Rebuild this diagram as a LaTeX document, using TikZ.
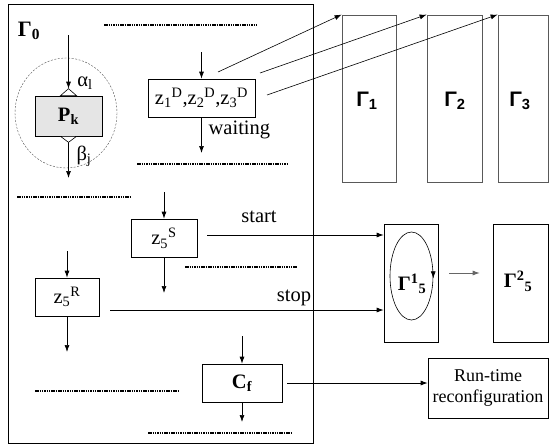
\documentclass[tikz,border=0pt]{standalone}
\usepackage{fontspec}
\setmainfont{Liberation Serif}
\newfontfamily\gammasans{Liberation Sans}
\usetikzlibrary{arrows.meta, shapes.geometric}
\colorlet{ProcessFill}{black!10}
\colorlet{ContextLine}{black!65}
\tikzset{
    flow arrow/.style={-{Latex[length=7pt, width=5pt]}},
    plain box/.style={draw, inner sep=0pt, line width=0.7pt},
    dotted rule/.style={line width=1.3pt, dash pattern=on 1.5pt off 0.8pt},
    context box/.style={
        draw=ContextLine, line width=0.8pt, inner sep=0pt,
        minimum height=167pt
    },
    context label/.style={font=\gammasans\bfseries\fontsize{21}{24}\selectfont},
    port/.style={draw, fill=white, line width=0.6pt}
}

\begin{document}
\begin{tikzpicture}[x=1pt, y=-1pt, line width=0.7pt, font=\fontsize{20.5}{24}\selectfont]
\useasboundingbox (0,0) rectangle (549,445);

% Marco del contexto principal.
\coordinate (F1) at (8,4);
\coordinate (F2) at (313,443);
\draw (F1) rectangle (F2);
\node[font=\fontsize{22}{25}\selectfont] (g0) at (29,31) {\textbf{Γ\textsubscript{0}}};

% Proceso P_k con sus puertos de entrada y salida.
\coordinate (pkc) at (66,113);
\draw[dashed, line width=0.4pt, black!70, dash pattern=on 2pt off 1.5pt] (pkc) ellipse (51 and 55);
\node[plain box, fill=ProcessFill, minimum width=67pt, minimum height=40pt] (pk) at (68.5,116) {\textbf{P\textsubscript{k}}};
\coordinate (pkin) at (68.5,35);
\coordinate (pkout) at (68.5,178);
\draw[flow arrow] (pkin) -- ([yshift=7pt]pk.north);
\draw[flow arrow] ([yshift=-6pt]pk.south) -- (pkout);
\draw[port] ([xshift=-8pt]pk.north) -- ([yshift=7pt]pk.north) -- ([xshift=8pt]pk.north) -- cycle;
\draw[port] ([xshift=-8pt]pk.south) -- ([yshift=-6pt]pk.south) -- ([xshift=8pt]pk.south) -- cycle;
\node (alpha) at (85,83) {α\textsubscript{l}};
\node (beta) at (84,156) {β\textsubscript{j}};

% Nodo de espera z^D.
\node[plain box, minimum width=107pt, minimum height=38pt] (zd) at (201.5,98) {z\textsubscript{1}\textsuperscript{D},z\textsubscript{2}\textsuperscript{D},z\textsubscript{3}\textsuperscript{D}};
\coordinate (zdin) at (201.5,52);
\coordinate (zdout) at (201.5,153);
\draw[flow arrow] (zdin) -- (zd.north);
\draw[flow arrow] (zd.south) -- (zdout);
\node[anchor=west] (waiting) at (205,130) {waiting};

% Contextos Γ1, Γ2, Γ3.
\node[context box, minimum width=54pt] (g1) at (369,98.5) {};
\node[context box, minimum width=55pt] (g2) at (454.5,98.5) {};
\node[context box, minimum width=50pt] (g3) at (523,98.5) {};
\node[context label] at (367,101) {Γ\textsubscript{1}};
\node[context label] at (455,101) {Γ\textsubscript{2}};
\node[context label] at (520,101) {Γ\textsubscript{3}};

% Enlaces desde z^D hacia cada contexto.
\coordinate (w1) at (218,72);
\coordinate (w2) at (260,73);
\coordinate (w3) at (267,95);
\draw[flow arrow, line width=0.6pt] (w1) -- (g1.north west);
\draw[flow arrow, line width=0.6pt] (w2) -- (g2.north west);
\draw[flow arrow, line width=0.6pt] (w3) -- (g3.north west);

% Nodos z5^S y z5^R.
\node[plain box, minimum width=66pt, minimum height=38pt] (zs) at (164,238) {z\textsubscript{5}\textsuperscript{S}};
\coordinate (zsin) at (164,192);
\coordinate (zsout) at (164,293);
\draw[flow arrow] (zsin) -- (zs.north);
\draw[flow arrow] (zs.south) -- (zsout);
\node[plain box, minimum width=64pt, minimum height=38pt] (zr) at (67,297) {z\textsubscript{5}\textsuperscript{R}};
\coordinate (zrin) at (67,251);
\coordinate (zrout) at (67,352);
\draw[flow arrow] (zrin) -- (zr.north);
\draw[flow arrow] (zr.south) -- (zrout);

% Contextos Γ^1_5 y Γ^2_5.
\node[plain box, minimum width=54pt, minimum height=118pt] (g15) at (411,283) {};
\node[plain box, minimum width=55pt, minimum height=118pt] (g25) at (520.5,283) {};
\node[ellipse, draw, inner sep=0pt, line width=0.6pt, minimum width=43pt, minimum height=88pt] (loop) at (411.5,276) {};
\draw[flow arrow, line width=0.6pt] (loop.10) -- (loop.-6);
\node (g15label) at (412,284) {\textbf{Γ\textsuperscript{1}\textsubscript{5}}};
\node (g25label) at (518,281) {\textbf{Γ\textsuperscript{2}\textsubscript{5}}};
\draw[flow arrow, black!60] ([xshift=11pt,yshift=10pt]g15.east) -- ([xshift=-13pt,yshift=10pt]g25.west);

% Señales start y stop.
\coordinate (st) at (207,235);
\coordinate (sp) at (110,310);
\draw[flow arrow] (st) -- (st -| g15.west);
\draw[flow arrow] (sp) -- (sp -| g15.west);
\node (start) at (259,217) {start};
\node (stop) at (294,298) {stop};

% Nodo C_f y reconfiguración.
\node[plain box, minimum width=80pt, minimum height=38pt] (cf) at (242,383) {\textbf{C\textsubscript{f}}};
\coordinate (cfin) at (242,336);
\coordinate (cfout) at (242,422);
\draw[flow arrow] (cfin) -- (cf.north);
\draw[flow arrow] (cf.south) -- (cfout);
\node[plain box, minimum width=120pt, minimum height=60pt, align=center, font=\fontsize{18}{21}\selectfont] (run) at (488,388) {Run-time\\reconfiguration};
\draw[flow arrow] ([xshift=5pt]cf.east) -- (run.west |- cf.east);

% Líneas punteadas que indican el resto del flujo.
\draw[dotted rule] (104,25) -- (257,25);
\draw[dotted rule] (137,164) -- (288,164);
\draw[dotted rule] (17,197) -- (130,197);
\draw[dotted rule] (185,267) -- (297,267);
\draw[dotted rule] (35,391) -- (179,391);
\draw[dotted rule] (148,433) -- (292,433);

\end{tikzpicture}
\end{document}
